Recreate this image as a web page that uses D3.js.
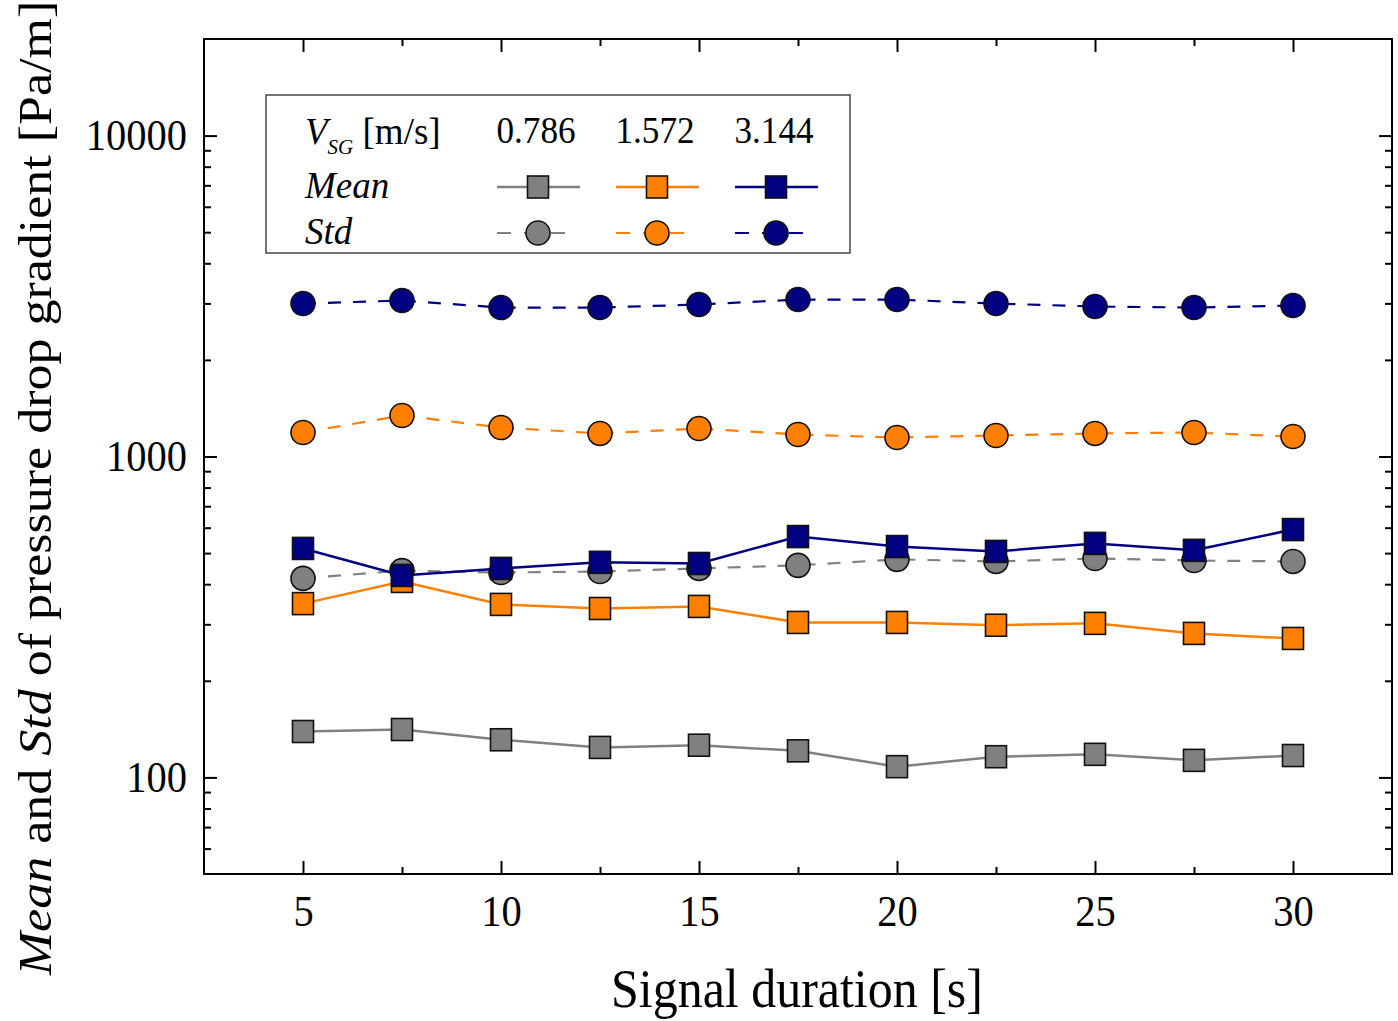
<!DOCTYPE html>
<html>
<head>
<meta charset="utf-8">
<script src="https://cdn.jsdelivr.net/npm/d3@7"></script>
<style>
  html, body { margin: 0; padding: 0; background: #fff; }
  svg { display: block; font-family: "Liberation Serif", "Times New Roman", serif; }
</style>
</head>
<body>
<svg id="chart" width="1398" height="1021"></svg>
<script>
// ---- data ----
const durations = [5, 7.5, 10, 12.5, 15, 17.5, 20, 22.5, 25, 27.5, 30];
const seriesLabels = ["0.786", "1.572", "3.144"];
const mean0786 = [139, 141, 131, 124, 126, 121, 108, 116, 118, 113, 117];
const std0786  = [417, 441, 435, 438, 448, 458, 478, 471, 481, 474, 471];
const mean1572 = [348, 408, 346, 336, 341, 304, 304, 298, 302, 281, 271];
const std1572  = [1188, 1342, 1231, 1180, 1222, 1171, 1146, 1163, 1180, 1188, 1154];
const mean3144 = [517, 426, 448, 468, 464, 563, 524, 506, 536, 510, 592];
const std3144  = [2997, 3062, 2912, 2912, 2976, 3084, 3084, 2997, 2933, 2912, 2954];
const xTickValues = [5, 10, 15, 20, 25, 30];
const xMinorValues = [7.5, 12.5, 17.5, 22.5, 27.5];
const yTickValues = [100, 1000, 10000];
const yMinorValues = [60, 70, 80, 90, 200, 300, 400, 500, 600, 700, 800, 900,
                      2000, 3000, 4000, 5000, 6000, 7000, 8000, 9000];
const colors = ["#808080", "#FF8000", "#000080"];

// ---- layout ----
const svg = d3.select("#chart");
const L = 204, R = 1392, T = 39, B = 874;
const x = d3.scaleLinear().domain([2.5, 32.5]).range([L, R]);
const y = d3.scaleLog().domain([50, 20000]).range([B, T]);

svg.append("rect").attr("width", 1398).attr("height", 1021).attr("fill", "#fff");

function squeeze(sel, k) {
  sel.each(function () {
    const w = this.getComputedTextLength();
    d3.select(this).attr("textLength", w * k).attr("lengthAdjust", "spacingAndGlyphs");
  });
}

// axes
function styleAxis(g) {
  g.select(".domain").remove();
  g.selectAll(".tick line").attr("stroke", "#000").attr("stroke-width", 2);
  g.selectAll(".tick text").attr("font-family", "Liberation Serif, serif").attr("font-size", 44).attr("fill", "#000");
  squeeze(g.selectAll(".tick text"), 0.92);
}
svg.append("g").attr("transform", `translate(0,${B})`)
  .call(d3.axisBottom(x).tickValues(xTickValues).tickSize(-13).tickPadding(21).tickFormat(d3.format("d")))
  .call(styleAxis);
svg.append("g").attr("transform", `translate(0,${B})`)
  .call(d3.axisBottom(x).tickValues(xMinorValues).tickSize(-7).tickFormat(""))
  .call(styleAxis);
svg.append("g").attr("transform", `translate(0,${T})`)
  .call(d3.axisTop(x).tickValues(xTickValues).tickSize(-13).tickFormat(""))
  .call(styleAxis);
svg.append("g").attr("transform", `translate(0,${T})`)
  .call(d3.axisTop(x).tickValues(xMinorValues).tickSize(-7).tickFormat(""))
  .call(styleAxis);
svg.append("g").attr("transform", `translate(${L},0)`)
  .call(d3.axisLeft(y).tickValues(yTickValues).tickSize(-13).tickPadding(17).tickFormat(d3.format("d")))
  .call(styleAxis);
svg.append("g").attr("transform", `translate(${L},0)`)
  .call(d3.axisLeft(y).tickValues(yMinorValues).tickSize(-7).tickFormat(""))
  .call(styleAxis);
svg.append("g").attr("transform", `translate(${R},0)`)
  .call(d3.axisRight(y).tickValues(yTickValues).tickSize(-13).tickFormat(""))
  .call(styleAxis);
svg.append("g").attr("transform", `translate(${R},0)`)
  .call(d3.axisRight(y).tickValues(yMinorValues).tickSize(-7).tickFormat(""))
  .call(styleAxis);

// frame
svg.append("rect").attr("x", L).attr("y", T).attr("width", R - L).attr("height", B - T)
  .attr("fill", "none").attr("stroke", "#000").attr("stroke-width", 2);

// axis titles
svg.append("text").attr("x", 797).attr("y", 1007).attr("text-anchor", "middle")
  .attr("font-size", 54).text("Signal duration [s]")
  .call(squeeze, 0.925);
const yt = svg.append("text").attr("transform", "translate(51,488) rotate(-90) scale(1,0.9)")
  .attr("text-anchor", "middle").attr("font-size", 52);
yt.append("tspan").attr("font-style", "italic").text("Mean");
yt.append("tspan").text(" and ");
yt.append("tspan").attr("font-style", "italic").text("Std");
yt.append("tspan").text(" of pressure drop gradient [Pa/m]");

// series
const line = d3.line().x((d, i) => x(durations[i])).y(d => y(d));
const plotG = svg.append("g");
const SQW = 21, SQH = 22, CR = 12;
function drawMean(vals, c) {
  plotG.append("path").attr("d", line(vals)).attr("fill", "none").attr("stroke", c).attr("stroke-width", 2.5);
  plotG.append("g").selectAll("rect").data(vals).join("rect")
    .attr("x", (d, i) => x(durations[i]) - SQW / 2).attr("y", d => y(d) - SQH / 2)
    .attr("width", SQW).attr("height", SQH).attr("fill", c).attr("stroke", "#111").attr("stroke-width", 1.6);
}
function drawStd(vals, c) {
  plotG.append("path").attr("d", line(vals)).attr("fill", "none").attr("stroke", c).attr("stroke-width", 2.2)
    .attr("stroke-dasharray", "13,12");
  plotG.append("g").selectAll("circle").data(vals).join("circle")
    .attr("cx", (d, i) => x(durations[i])).attr("cy", d => y(d)).attr("r", CR)
    .attr("fill", c).attr("stroke", "#111").attr("stroke-width", 1.6);
}
drawMean(mean0786, colors[0]);
drawStd(std0786, colors[0]);
drawMean(mean1572, colors[1]);
drawStd(std1572, colors[1]);
drawMean(mean3144, colors[2]);
drawStd(std3144, colors[2]);

// legend
const lg = svg.append("g");
lg.append("rect").attr("x", 266).attr("y", 95).attr("width", 584).attr("height", 158)
  .attr("fill", "#fff").attr("stroke", "#444").attr("stroke-width", 1.5);
const hdr = lg.append("text").attr("x", 305).attr("y", 144).attr("font-size", 37);
hdr.append("tspan").attr("font-style", "italic").text("V");
hdr.append("tspan").attr("font-style", "italic").attr("font-size", 21).attr("dy", 10).text("SG");
hdr.append("tspan").attr("dy", -10).text(" [m/s]");
lg.append("text").attr("x", 305).attr("y", 198).attr("font-size", 37).attr("font-style", "italic").text("Mean");
lg.append("text").attr("x", 305).attr("y", 244).attr("font-size", 37).attr("font-style", "italic").text("Std");
const legX = [538, 657, 776];
seriesLabels.forEach((s, i) => {
  const cx = legX[i], c = colors[i];
  lg.append("text").attr("x", cx - 2).attr("y", 143).attr("text-anchor", "middle").attr("font-size", 37)
    .text(s).call(squeeze, 0.95);
  lg.append("line").attr("x1", cx - 41).attr("x2", cx + 42).attr("y1", 187).attr("y2", 187)
    .attr("stroke", c).attr("stroke-width", 2.5);
  lg.append("rect").attr("x", cx - SQW / 2).attr("y", 187 - SQH / 2).attr("width", SQW).attr("height", SQH)
    .attr("fill", c).attr("stroke", "#111").attr("stroke-width", 1.6);
  lg.append("line").attr("x1", cx - 41).attr("x2", cx + 27).attr("y1", 233).attr("y2", 233)
    .attr("stroke", c).attr("stroke-width", 2.2).attr("stroke-dasharray", "14,13");
  lg.append("circle").attr("cx", cx).attr("cy", 233).attr("r", CR)
    .attr("fill", c).attr("stroke", "#111").attr("stroke-width", 1.6);
});
</script>
</body>
</html>
